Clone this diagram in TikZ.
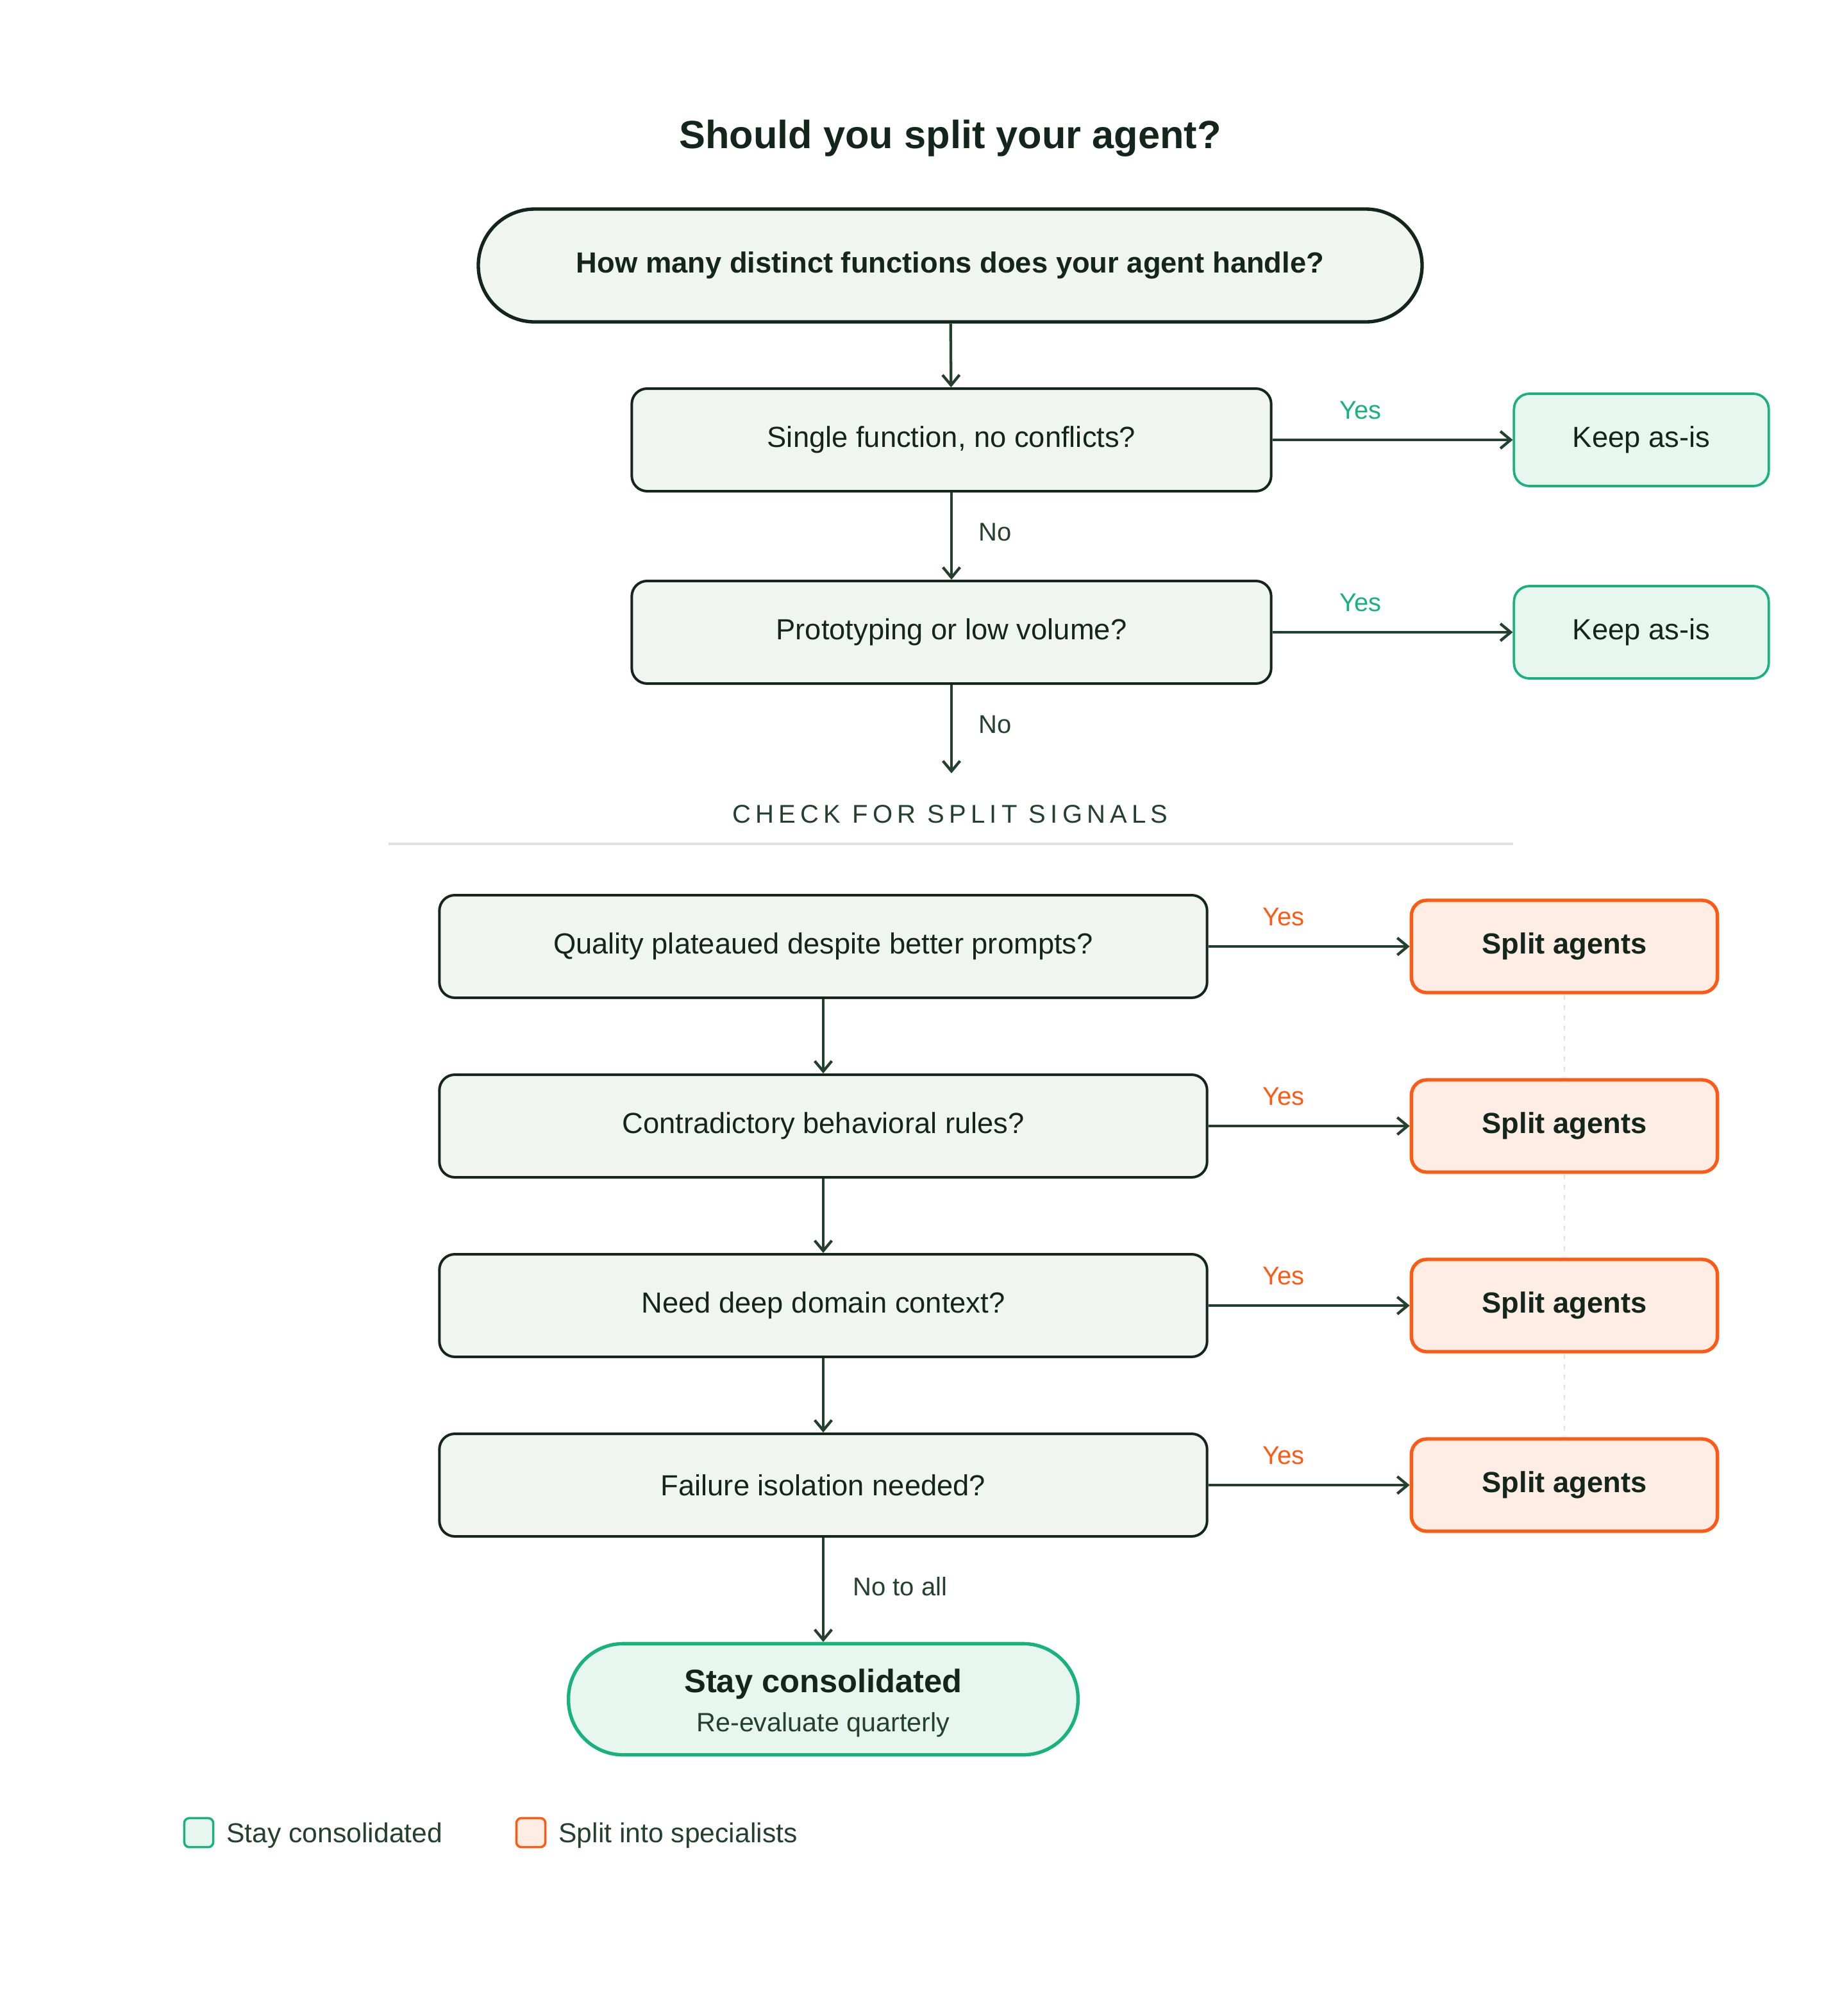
\documentclass[tikz,border=0pt]{standalone}
\usepackage{fontspec}
\setmainfont{Liberation Sans}
\usetikzlibrary{arrows.meta}
\definecolor{ink}{HTML}{14261C}
\definecolor{arr}{HTML}{24402F}
\definecolor{boxfill}{HTML}{F1F5F1}
\definecolor{grn}{HTML}{18B27C}
\definecolor{grnfill}{HTML}{E8F6F0}
\definecolor{org}{HTML}{FF5A14}
\definecolor{orgfill}{HTML}{FDEDE4}
\begin{document}
\begin{tikzpicture}[x=0.75pt,y=-0.75pt,
  q/.style={draw=ink,line width=1.5pt,fill=boxfill,rounded corners=9pt,minimum width=374pt,minimum height=60pt,font=\fontsize{17}{20}\selectfont,text=ink},
  keep/.style={draw=grn,line width=1.4pt,fill=grnfill,rounded corners=9pt,minimum width=149pt,minimum height=54pt,font=\fontsize{17}{20}\selectfont,text=ink},
  split/.style={draw=org,line width=2pt,fill=orgfill,rounded corners=9pt,minimum width=179pt,minimum height=54pt,font=\bfseries\fontsize{17}{20}\selectfont,text=ink},
  ar/.style={draw=arr,line width=1.6pt,-{Straight Barb[length=6pt,width=10pt]}},
  yes/.style={font=\fontsize{15}{18}\selectfont},
  no/.style={font=\fontsize{15}{18}\selectfont,text=arr}]
\useasboundingbox (0,0) rectangle (1424,1572);
\fill[white] (0,0) rectangle (1424,1572);
\node[font=\bfseries\fontsize{23}{27}\selectfont,text=ink] (title) at (741,108) {Should you split your agent?};
\node[draw=ink,line width=2pt,fill=boxfill,rounded corners=33pt,minimum width=552pt,minimum height=66pt,font=\bfseries\fontsize{17}{20}\selectfont,text=ink] (top) at (741,207) {How many distinct functions does your agent handle?};
\node[q] (b1) at (742,343) {Single function, no conflicts?};
\node[q] (b2) at (742,493) {Prototyping or low volume?};
\node[keep] (k1) at (1280,343) {Keep as-is};
\node[keep] (k2) at (1280,493) {Keep as-is};
\coordinate (c1) at (742,603);
\draw[ar] (top) -- (b1);
\draw[ar] (b1) -- (b2);
\draw[ar] (b2) -- (c1);
\draw[ar] (b1) -- (k1);
\draw[ar] (b2) -- (k2);
\node[yes,text=grn] (y1) at (1061,320) {Yes};
\node[yes,text=grn] (y2) at (1061,470) {Yes};
\node[no] (n1) at (776,415) {No};
\node[no] (n2) at (776,565) {No};
\node[font=\fontsize{15}{18}\selectfont,text=arr] (chk) at (741,635) {\addfontfeature{LetterSpace=18}CHECK FOR SPLIT SIGNALS};
\coordinate (l1) at (303,658); \coordinate (l2) at (1180,658);
\draw[black!12,line width=1.2pt] (l1) -- (l2);
\node[q,minimum width=449pt] (s1) at (642,738) {Quality plateaued despite better prompts?};
\node[q,minimum width=449pt] (s2) at (642,878) {Contradictory behavioral rules?};
\node[q,minimum width=449pt] (s3) at (642,1018) {Need deep domain context?};
\node[q,minimum width=449pt] (s4) at (642,1158) {Failure isolation needed?};
\foreach \i/\y in {1/738,2/878,3/1018,4/1158}{
  \node[split] (p\i) at (1220,\y) {Split agents};
  \node[yes,text=org] (ys\i) at (1001,\y-23) {Yes};
}
\draw[black!12,line width=1pt,dashed] (p1) -- (p2);
\draw[black!12,line width=1pt,dashed] (p2) -- (p3);
\draw[black!12,line width=1pt,dashed] (p3) -- (p4);
\foreach \i in {1,...,4}{\draw[ar] (s\i) -- (p\i);}
\draw[ar] (s1) -- (s2);
\draw[ar] (s2) -- (s3);
\draw[ar] (s3) -- (s4);
\node[draw=grn,line width=2pt,fill=grnfill,rounded corners=32pt,minimum width=298pt,minimum height=65pt] (stay) at (642,1325) {};
\node[font=\bfseries\fontsize{19}{22}\selectfont,text=ink] (st1) at (642,1313) {Stay consolidated};
\node[font=\fontsize{15.5}{18}\selectfont,text=arr] (st2) at (642,1345) {Re-evaluate quarterly};
\draw[ar] (s4) -- (stay);
\node[no] (nta) at (702,1237) {No to all};
\node[draw=grn,line width=1.3pt,fill=grnfill,rounded corners=3pt,minimum size=17pt] (lg1) at (155,1429) {};
\node[anchor=west,font=\fontsize{16}{19}\selectfont,text=arr] (lt1) at (172,1431) {Stay consolidated};
\node[draw=org,line width=1.3pt,fill=orgfill,rounded corners=3pt,minimum size=17pt] (lg2) at (414,1429) {};
\node[anchor=west,font=\fontsize{16}{19}\selectfont,text=arr] (lt2) at (431,1431) {Split into specialists};
\end{tikzpicture}
\end{document}
